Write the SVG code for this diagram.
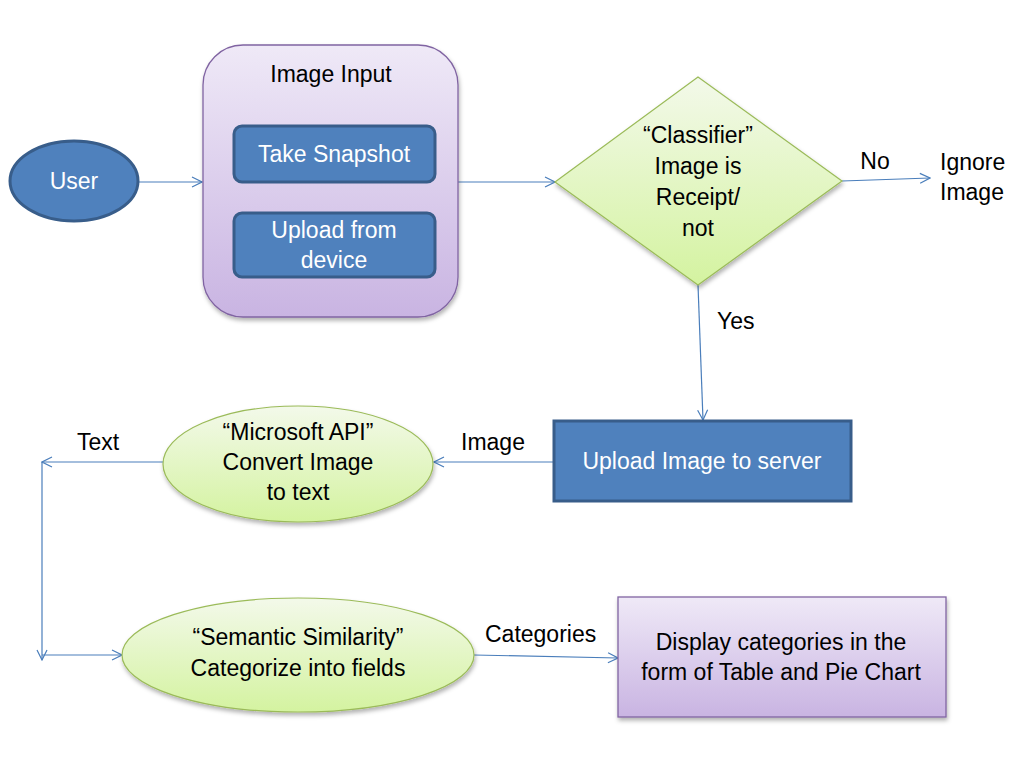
<svg xmlns="http://www.w3.org/2000/svg" width="1018" height="765" viewBox="0 0 1018 765">
<defs>
<linearGradient id="gPurple" x1="0" y1="0" x2="0" y2="1">
<stop offset="0" stop-color="#efe9f7"/>
<stop offset="1" stop-color="#c9b4e2"/>
</linearGradient>
<linearGradient id="gGreen" x1="0" y1="0" x2="0" y2="1">
<stop offset="0" stop-color="#f3f9ea"/>
<stop offset="1" stop-color="#d4f3a0"/>
</linearGradient>
<filter id="sh" x="-10%" y="-10%" width="125%" height="130%">
<feDropShadow dx="1" dy="3" stdDeviation="2" flood-color="#000" flood-opacity="0.3"/>
</filter>
<marker id="arr" viewBox="0 0 12 12" refX="11" refY="6" markerWidth="12" markerHeight="12" markerUnits="userSpaceOnUse" orient="auto">
<path d="M1,1 L11,6 L1,11" fill="none" stroke="#4a7ebb" stroke-width="1.2"/>
</marker>
</defs>
<style>
text{font-family:"Liberation Sans",Arial,sans-serif;font-size:23px;fill:#000}
.w{fill:#fff}
.c{text-anchor:middle}
.blue{fill:#4f81bd;stroke:#385d8a;stroke-width:3}
.purple{fill:url(#gPurple);stroke:#8064a2;stroke-width:1.3}
.green{fill:url(#gGreen);stroke:#9bbb59;stroke-width:1.2}
.conn{fill:none;stroke:#4a7ebb;stroke-width:1.2}
</style>
<rect width="1018" height="765" fill="#fff"/>
<g id="connectors">
<line class="conn" x1="139" y1="182" x2="202" y2="182" marker-end="url(#arr)"/>
<line class="conn" x1="458" y1="182" x2="555" y2="182" marker-end="url(#arr)"/>
<line class="conn" x1="842" y1="181" x2="930" y2="178" marker-end="url(#arr)"/>
<line class="conn" x1="698" y1="285" x2="703" y2="420" marker-end="url(#arr)"/>
<line class="conn" x1="553" y1="462" x2="434" y2="462" marker-end="url(#arr)"/>
<line class="conn" x1="163" y1="462" x2="42" y2="462" marker-end="url(#arr)"/>
<line class="conn" x1="42" y1="462" x2="42" y2="660" marker-end="url(#arr)"/>
<line class="conn" x1="42" y1="655" x2="122" y2="655" marker-end="url(#arr)"/>
<line class="conn" x1="474" y1="655" x2="618" y2="658" marker-end="url(#arr)"/>
<text x="875" y="169" class="c">No</text>
<text x="717" y="329">Yes</text>
<text x="461" y="450">Image</text>
<text x="77" y="450">Text</text>
<text x="485" y="642">Categories</text>
</g>
<g id="user">
<ellipse class="blue" cx="74" cy="181" rx="64" ry="40"/>
<text x="74" y="189" class="c w">User</text>
</g>
<g id="image-input">
<rect class="purple" x="203" y="45" width="255" height="272" rx="40" filter="url(#sh)"/>
<text x="331" y="82" class="c">Image Input</text>
</g>
<g id="take-snapshot">
<rect class="blue" x="234" y="126" width="201" height="56" rx="8" stroke-width="2.5"/>
<text x="334" y="162" class="c w">Take Snapshot</text>
</g>
<g id="upload-device">
<rect class="blue" x="234" y="213" width="201" height="64" rx="8" stroke-width="2.5"/>
<text x="334" y="238" class="c w">Upload from</text>
<text x="334" y="268" class="c w">device</text>
</g>
<g id="classifier">
<polygon class="green" points="698,77 842,181 698,285 555,182" filter="url(#sh)"/>
<text x="698" y="143" class="c">“Classifier”</text>
<text x="698" y="174" class="c">Image is</text>
<text x="698" y="205" class="c">Receipt/</text>
<text x="698" y="236" class="c">not</text>
</g>
<g id="ignore">
<text x="940" y="170">Ignore</text>
<text x="940" y="200">Image</text>
</g>
<g id="upload-server">
<rect class="blue" x="554" y="421" width="297" height="80"/>
<text x="702" y="469" class="c w">Upload Image to server</text>
</g>
<g id="microsoft-api">
<ellipse class="green" cx="298" cy="464" rx="135" ry="58" filter="url(#sh)"/>
<text x="298" y="440" class="c">“Microsoft API”</text>
<text x="298" y="470" class="c">Convert Image</text>
<text x="298" y="500" class="c">to text</text>
</g>
<g id="semantic">
<ellipse class="green" cx="298" cy="655" rx="176" ry="57" filter="url(#sh)"/>
<text x="298" y="645" class="c">“Semantic Similarity”</text>
<text x="298" y="676" class="c">Categorize into fields</text>
</g>
<g id="display">
<rect class="purple" x="618" y="597" width="328" height="120" filter="url(#sh)"/>
<text x="781" y="650" class="c">Display categories in the</text>
<text x="781" y="680" class="c">form of Table and Pie Chart</text>
</g>
</svg>
